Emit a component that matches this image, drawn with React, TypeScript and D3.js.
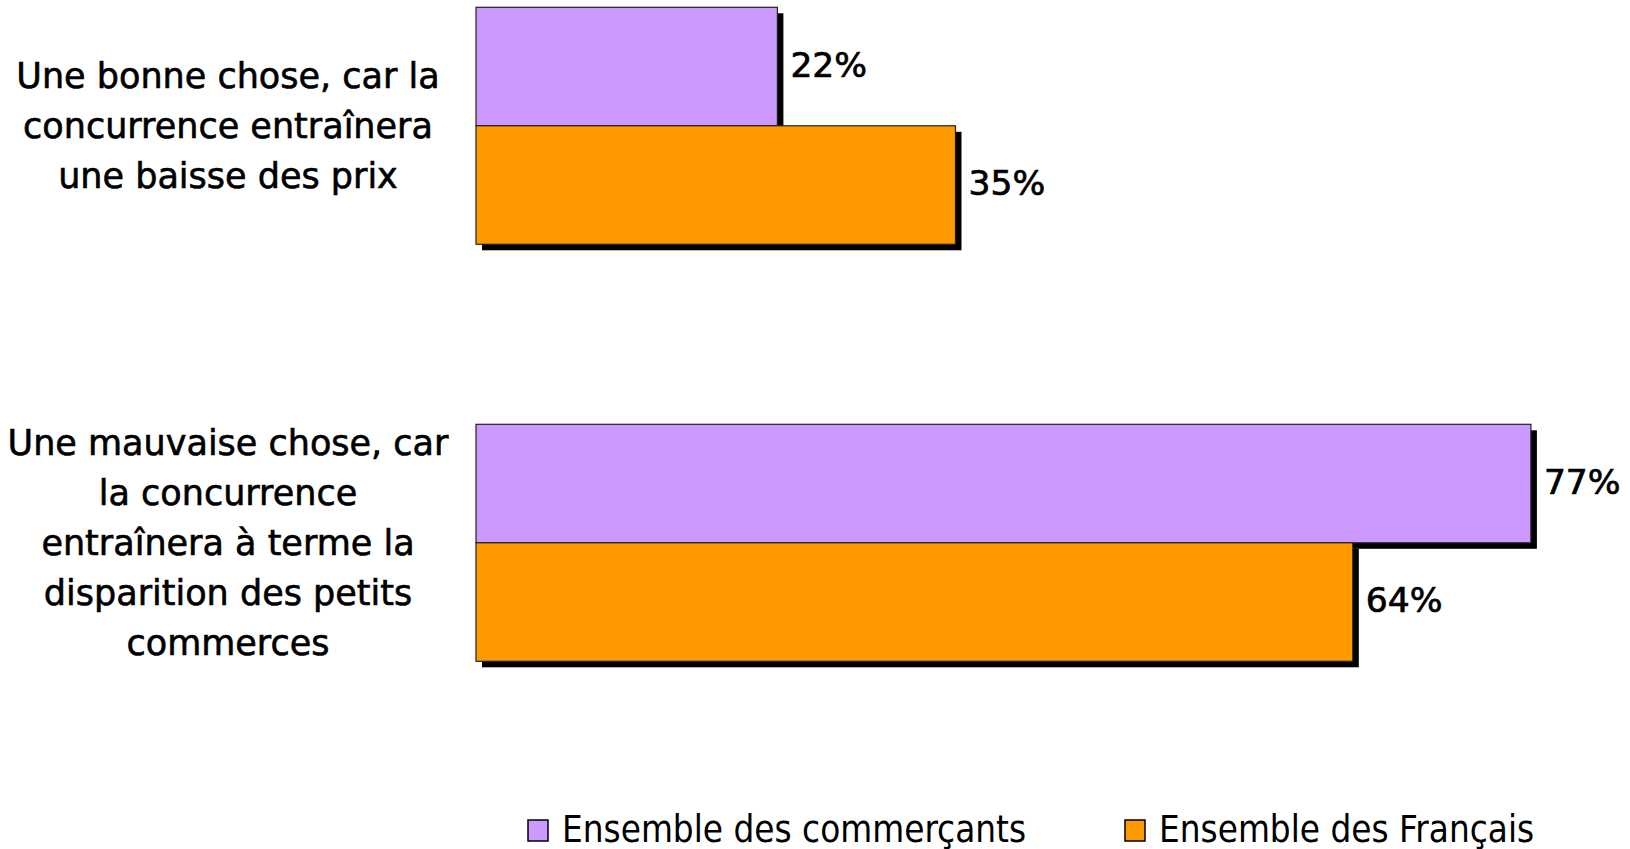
import React from "react";
import * as d3 from "d3";

const categories: string[][] = [
  ["Une bonne chose, car la", "concurrence entraînera", "une baisse des prix"],
  ["Une mauvaise chose, car", "la concurrence", "entraînera à terme la", "disparition des petits", "commerces"],
];
const categoryKeys = ["bonne", "mauvaise"];
const seriesNames = ["Ensemble des commerçants", "Ensemble des Français"];
const seriesColors = ["#CC99FF", "#FF9900"];
const commercants = [22, 77];
const francais = [35, 64];
const seriesValues = [commercants, francais];

const W = 1630;
const H = 849;

export default function App() {
  const x = d3.scaleLinear().domain([0, 100]).range([476, 1846]);
  const y = d3
    .scaleBand<string>()
    .domain(categoryKeys)
    .range([-82.7, 751.3])
    .paddingInner(0.4317)
    .paddingOuter(0.2158);
  const ys = d3
    .scaleBand<string>()
    .domain(seriesNames)
    .range([0, y.bandwidth()]);
  const shadow = 6;
  const lineH = 50;

  return (
    <svg width={W} height={H} style={{ position: "absolute", left: 0, top: 0, background: "#fff" }}>
      {categoryKeys.map((k, ci) => {
        const y0 = y(k)!;
        const cy = y0 + y.bandwidth() / 2;
        const lines = categories[ci];
        return (
          <g key={k}>
            {seriesNames.map((s, si) => {
              const v = seriesValues[si][ci];
              const by = y0 + ys(s)!;
              const bw = x(v) - x(0);
              return (
                <g key={s}>
                  <rect x={x(0) + shadow} y={by + shadow} width={bw} height={ys.bandwidth()} fill="#000" />
                </g>
              );
            })}
            {seriesNames.map((s, si) => {
              const v = seriesValues[si][ci];
              const by = y0 + ys(s)!;
              const bw = x(v) - x(0);
              return (
                <g key={s}>
                  <rect
                    x={x(0)}
                    y={by}
                    width={bw}
                    height={ys.bandwidth()}
                    fill={seriesColors[si]}
                    stroke="#222"
                    strokeWidth={1.2}
                  />
                  <text
                    x={x(v) + 13}
                    y={by + ys.bandwidth() / 2 - 2}
                    dominantBaseline="central"
                    fontFamily="DejaVu Sans"
                    fontSize={34.5}
                    fill="#000"
                    stroke="#000"
                    strokeWidth={0.7}
                  >
                    {v}%
                  </text>
                </g>
              );
            })}
            {lines.map((t, li) => (
              <text
                key={li}
                x={228}
                y={cy + (li - (lines.length - 1) / 2) * lineH}
                textAnchor="middle"
                dominantBaseline="central"
                fontFamily="DejaVu Sans"
                fontSize={35}
                fill="#000"
                stroke="#000"
                strokeWidth={0.6}
              >
                {t}
              </text>
            ))}
          </g>
        );
      })}
      {seriesNames.map((s, si) => {
        const lx = [528, 1125][si];
        return (
          <g key={s}>
            <rect x={lx} y={820} width={20} height={21} fill={seriesColors[si]} stroke="#000" strokeWidth={1.5} />
            <text
              x={lx + 34}
              y={829}
              dominantBaseline="central"
              fontFamily="DejaVu Sans Condensed"
              fontSize={36.5}
              fill="#000"
            >
              {s}
            </text>
          </g>
        );
      })}
    </svg>
  );
}
